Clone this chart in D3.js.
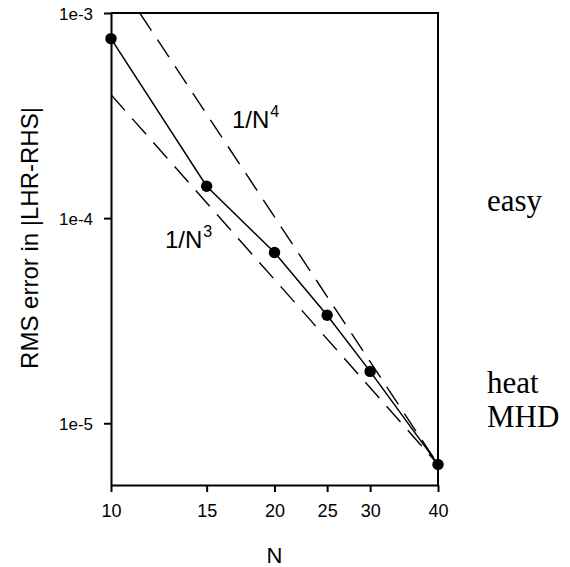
<!DOCTYPE html>
<html>
<head>
<meta charset="utf-8">
<script src="https://cdn.jsdelivr.net/npm/d3@7"></script>
<style>
  html, body { margin: 0; padding: 0; background: #fff; }
  svg { display: block; font-family: Arial, "Liberation Sans", sans-serif; }
</style>
</head>
<body>
<svg id="chart" width="570" height="567"></svg>
<script>
// data
const nValues = [10, 15, 20, 25, 30, 40]
const rmsError = [7.5e-4, 1.43e-4, 6.8e-5, 3.36e-5, 1.79e-5, 6.3e-6]

// visible ends of the two guide lines
const guideN4 = { n: [11.3, 40], v: [1e-3, 6.3e-6] }
const guideN3 = { n: [10, 40], v: [4.0e-4, 6.3e-6] }

const xTicks = [10, 15, 20, 25, 30, 40]
const yTicks = [1e-3, 1e-4, 1e-5]
const yTickLabels = ['1e-3', '1e-4', '1e-5']
const sideLabels = ['easy', 'heat', 'MHD']

const plot = { left: 111, right: 438, top: 13, bottom: 485 }

const svg = d3.select('#chart')

const x = d3.scaleLog().domain([10, 40]).range([plot.left, plot.right])
const y = d3.scaleLog().domain([5e-6, 1e-3]).range([plot.bottom, plot.top])

svg.append('defs').append('clipPath').attr('id', 'plotClip')
	.append('rect')
	.attr('x', plot.left).attr('y', plot.top)
	.attr('width', plot.right - plot.left).attr('height', plot.bottom - plot.top)

// frame: top and right sides
svg.append('path')
	.attr('d', `M ${plot.left} ${plot.top} H ${plot.right} V ${plot.bottom}`)
	.attr('fill', 'none')
	.attr('stroke', '#000')
	.attr('stroke-width', 2)

// axes
const xAxis = svg.append('g')
	.attr('transform', `translate(0,${plot.bottom})`)
	.call(d3.axisBottom(x).tickValues(xTicks).tickFormat(d3.format('d')).tickSize(7).tickPadding(12).tickSizeOuter(0))
const yAxis = svg.append('g')
	.attr('transform', `translate(${plot.left},0)`)
	.call(d3.axisLeft(y).tickValues(yTicks).tickFormat((d, i) => yTickLabels[i]).tickSize(7).tickPadding(11).tickSizeOuter(0))

for (const ax of [xAxis, yAxis]) {
	ax.select('.domain').attr('stroke-width', 2)
	ax.selectAll('.tick line').attr('stroke-width', 2)
	ax.selectAll('.tick text').attr('fill', '#000').attr('font-family', 'Arial, "Liberation Sans", sans-serif')
}
xAxis.selectAll('.tick text').attr('font-size', 18)
yAxis.selectAll('.tick text').attr('font-size', 17).attr('dy', '0.36em')

// axis titles
svg.append('text')
	.attr('x', (plot.left + plot.right) / 2)
	.attr('y', 563)
	.attr('text-anchor', 'middle')
	.attr('font-size', 22)
	.text('N')

svg.append('text')
	.attr('transform', `translate(38,238) rotate(-90)`)
	.attr('text-anchor', 'middle')
	.attr('font-size', 24)
	.text('RMS error in |LHR-RHS|')

// guide lines
const g = svg.append('g').attr('clip-path', 'url(#plotClip)')
const line = d3.line().x(d => x(d[0])).y(d => y(d[1]))

for (const guide of [guideN4, guideN3]) {
	g.append('path')
		.datum(d3.zip(guide.n, guide.v))
		.attr('d', line)
		.attr('fill', 'none')
		.attr('stroke', '#000')
		.attr('stroke-width', 1.4)
		.attr('stroke-dasharray', '21,11')
}

// data line + dots
const pts = d3.zip(nValues, rmsError)
svg.append('path')
	.datum(pts)
	.attr('d', line)
	.attr('fill', 'none')
	.attr('stroke', '#000')
	.attr('stroke-width', 1.5)

svg.selectAll('.dot')
	.data(pts)
	.join('circle')
	.attr('class', 'dot')
	.attr('cx', d => x(d[0]))
	.attr('cy', d => y(d[1]))
	.attr('r', 5.7)
	.attr('fill', '#000')

// slope labels
function slopeLabel(px, py, power) {
	const t = svg.append('text')
		.attr('x', px).attr('y', py)
		.attr('font-size', 24)
	t.append('tspan').text('1/N')
	t.append('tspan').attr('font-size', 16).attr('dx', 1).attr('dy', -11).text(power)
}
slopeLabel(232, 128, '4')
slopeLabel(165, 248, '3')

// labels at the right
svg.selectAll('.side')
	.data(sideLabels)
	.join('text')
	.attr('class', 'side')
	.attr('x', 487)
	.attr('y', (d, i) => i === 0 ? 211 : 393 + (i - 1) * 34)
	.attr('font-family', '"Liberation Serif", "Times New Roman", serif')
	.attr('font-size', 31)
	.text(d => d)
</script>
</body>
</html>
